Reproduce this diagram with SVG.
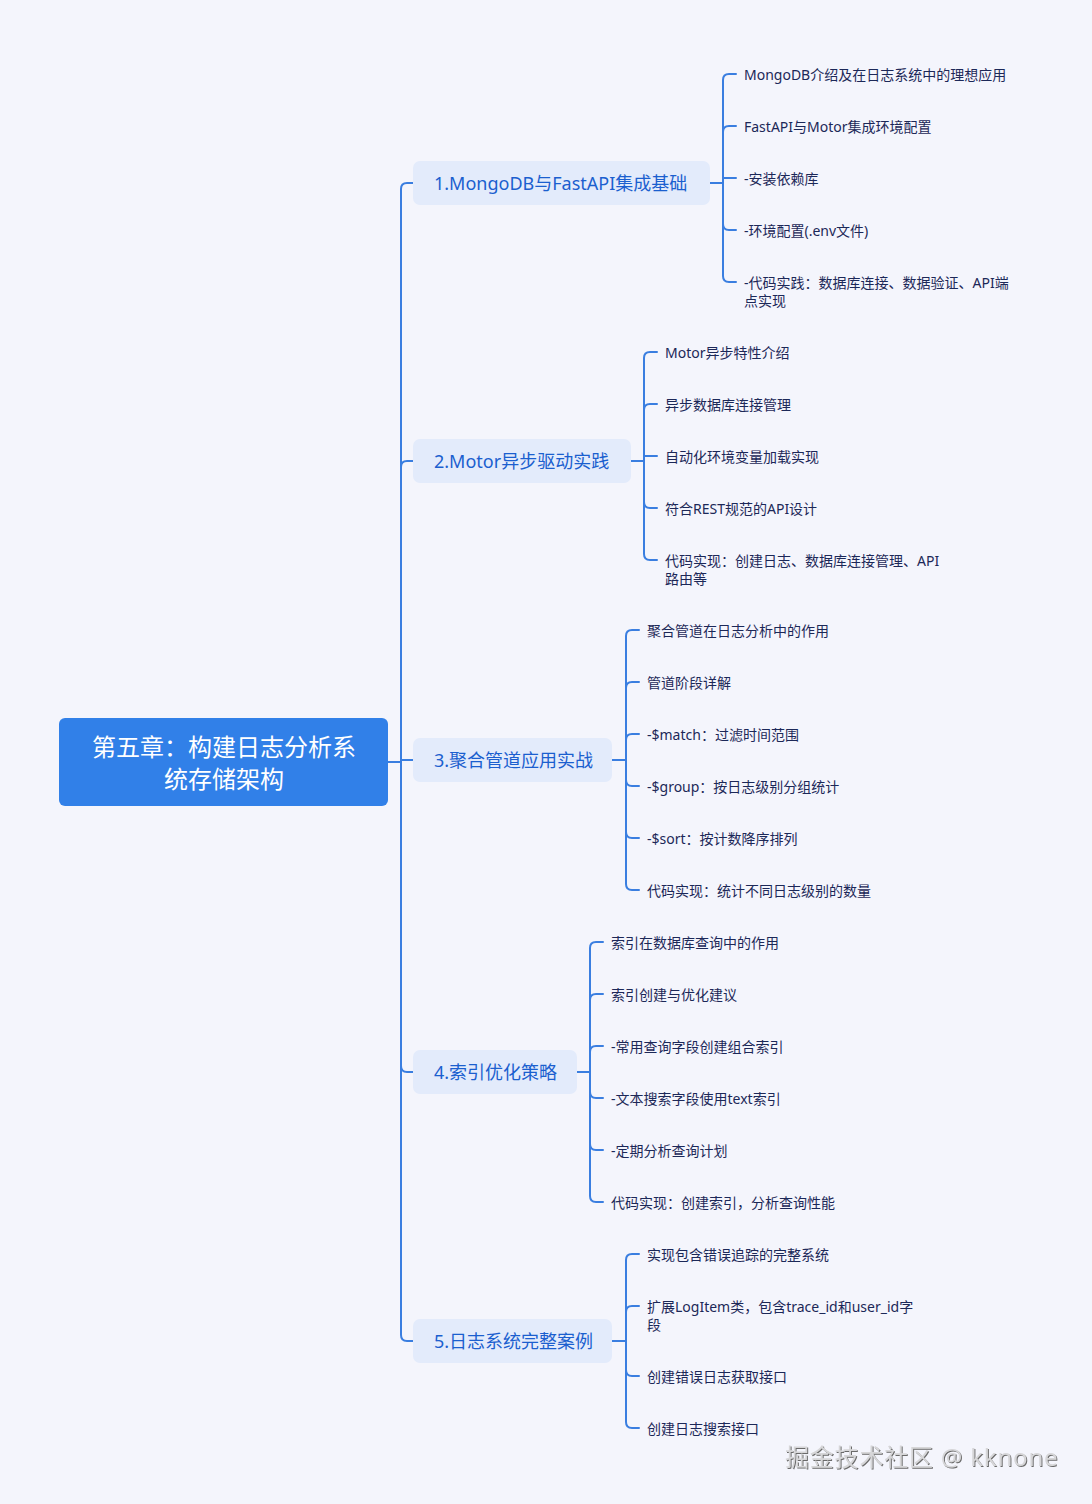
<svg xmlns="http://www.w3.org/2000/svg" width="1092" height="1504" viewBox="0 0 1092 1504">
<defs>
<style>
.ln{fill:none;stroke:#3a7ee0;stroke-width:2;stroke-linecap:round}
.root{fill:#3180e8}
.rt{font-family:"Noto Sans","Noto Sans CJK SC",sans-serif;font-size:24px;fill:#ffffff;text-anchor:middle}
.br{fill:#e3ebfb}
.bt{font-family:"Noto Sans","Noto Sans CJK SC",sans-serif;font-size:18px;fill:#1b5fcf}
.lt{font-family:"Noto Sans","Noto Sans CJK SC",sans-serif;font-size:14px;fill:#1c2858}
.wm{font-family:"Noto Sans","Noto Sans CJK SC",sans-serif;font-size:24px;fill:#d6d6d8;letter-spacing:0.8px}
</style>
<filter id="emb" x="-5%" y="-20%" width="110%" height="150%">
<feDropShadow dx="1" dy="1" stdDeviation="0.4" flood-color="#6a6a6a" flood-opacity="1"/>
</filter>
</defs>
<rect width="1092" height="1504" fill="#f4f5fc"/>
<g id="connectors">
<path class="ln" d="M388,762 H401 V189 Q401,183 407,183 H413"/>
<path class="ln" d="M401,762 V467 Q401,461 407,461 H413"/>
<path class="ln" d="M401,760 H413"/>
<path class="ln" d="M401,762 V1066 Q401,1072 407,1072 H413"/>
<path class="ln" d="M401,762 V1335 Q401,1341 407,1341 H413"/>
<path class="ln" d="M710,183 H723 V80 Q723,74 729,74 H736"/>
<path class="ln" d="M723,183 V132 Q723,126 729,126 H736"/>
<path class="ln" d="M723,183 V178 H736"/>
<path class="ln" d="M723,183 V224 Q723,230 729,230 H736"/>
<path class="ln" d="M723,183 V276 Q723,282 729,282 H736"/>
<path class="ln" d="M631,461 H644 V358 Q644,352 650,352 H657"/>
<path class="ln" d="M644,461 V410 Q644,404 650,404 H657"/>
<path class="ln" d="M644,461 V456 H657"/>
<path class="ln" d="M644,461 V502 Q644,508 650,508 H657"/>
<path class="ln" d="M644,461 V554 Q644,560 650,560 H657"/>
<path class="ln" d="M612,760 H626 V636 Q626,630 632,630 H639"/>
<path class="ln" d="M626,760 V688 Q626,682 632,682 H639"/>
<path class="ln" d="M626,760 V740 Q626,734 632,734 H639"/>
<path class="ln" d="M626,760 V780 Q626,786 632,786 H639"/>
<path class="ln" d="M626,760 V832 Q626,838 632,838 H639"/>
<path class="ln" d="M626,760 V884 Q626,890 632,890 H639"/>
<path class="ln" d="M577,1072 H590 V948 Q590,942 596,942 H603"/>
<path class="ln" d="M590,1072 V1000 Q590,994 596,994 H603"/>
<path class="ln" d="M590,1072 V1052 Q590,1046 596,1046 H603"/>
<path class="ln" d="M590,1072 V1092 Q590,1098 596,1098 H603"/>
<path class="ln" d="M590,1072 V1144 Q590,1150 596,1150 H603"/>
<path class="ln" d="M590,1072 V1196 Q590,1202 596,1202 H603"/>
<path class="ln" d="M612,1341 H626 V1260 Q626,1254 632,1254 H639"/>
<path class="ln" d="M626,1341 V1312 Q626,1306 632,1306 H639"/>
<path class="ln" d="M626,1341 V1370 Q626,1376 632,1376 H639"/>
<path class="ln" d="M626,1341 V1422 Q626,1428 632,1428 H639"/>
</g>
<g id="root">
<rect class="root" x="59" y="718" width="329" height="88" rx="6"/>
<text class="rt" x="224" y="756">第五章：构建日志分析系</text>
<text class="rt" x="224" y="788">统存储架构</text>
</g>
<g id="b1">
<rect class="br" x="413" y="161" width="297" height="44" rx="7"/>
<text class="bt" x="434" y="190">1.MongoDB与FastAPI集成基础</text>
</g>
<g id="b2">
<rect class="br" x="413" y="439" width="218" height="44" rx="7"/>
<text class="bt" x="434" y="468">2.Motor异步驱动实践</text>
</g>
<g id="b3">
<rect class="br" x="413" y="738" width="199" height="44" rx="7"/>
<text class="bt" x="434" y="767">3.聚合管道应用实战</text>
</g>
<g id="b4">
<rect class="br" x="413" y="1050" width="164" height="44" rx="7"/>
<text class="bt" x="434" y="1079">4.索引优化策略</text>
</g>
<g id="b5">
<rect class="br" x="413" y="1319" width="199" height="44" rx="7"/>
<text class="bt" x="434" y="1348">5.日志系统完整案例</text>
</g>
<g id="l1-1"><text class="lt" x="744" y="80">MongoDB介绍及在日志系统中的理想应用</text></g>
<g id="l1-2"><text class="lt" x="744" y="132">FastAPI与Motor集成环境配置</text></g>
<g id="l1-3"><text class="lt" x="744" y="184">-安装依赖库</text></g>
<g id="l1-4"><text class="lt" x="744" y="236">-环境配置(.env文件)</text></g>
<g id="l1-5"><text class="lt" x="744" y="288">-代码实践：数据库连接、数据验证、API端</text><text class="lt" x="744" y="306">点实现</text></g>
<g id="l2-1"><text class="lt" x="665" y="358">Motor异步特性介绍</text></g>
<g id="l2-2"><text class="lt" x="665" y="410">异步数据库连接管理</text></g>
<g id="l2-3"><text class="lt" x="665" y="462">自动化环境变量加载实现</text></g>
<g id="l2-4"><text class="lt" x="665" y="514">符合REST规范的API设计</text></g>
<g id="l2-5"><text class="lt" x="665" y="566">代码实现：创建日志、数据库连接管理、API</text><text class="lt" x="665" y="584">路由等</text></g>
<g id="l3-1"><text class="lt" x="647" y="636">聚合管道在日志分析中的作用</text></g>
<g id="l3-2"><text class="lt" x="647" y="688">管道阶段详解</text></g>
<g id="l3-3"><text class="lt" x="647" y="740">-$match：过滤时间范围</text></g>
<g id="l3-4"><text class="lt" x="647" y="792">-$group：按日志级别分组统计</text></g>
<g id="l3-5"><text class="lt" x="647" y="844">-$sort：按计数降序排列</text></g>
<g id="l3-6"><text class="lt" x="647" y="896">代码实现：统计不同日志级别的数量</text></g>
<g id="l4-1"><text class="lt" x="611" y="948">索引在数据库查询中的作用</text></g>
<g id="l4-2"><text class="lt" x="611" y="1000">索引创建与优化建议</text></g>
<g id="l4-3"><text class="lt" x="611" y="1052">-常用查询字段创建组合索引</text></g>
<g id="l4-4"><text class="lt" x="611" y="1104">-文本搜索字段使用text索引</text></g>
<g id="l4-5"><text class="lt" x="611" y="1156">-定期分析查询计划</text></g>
<g id="l4-6"><text class="lt" x="611" y="1208">代码实现：创建索引，分析查询性能</text></g>
<g id="l5-1"><text class="lt" x="647" y="1260">实现包含错误追踪的完整系统</text></g>
<g id="l5-2"><text class="lt" x="647" y="1312">扩展LogItem类，包含trace_id和user_id字</text><text class="lt" x="647" y="1330">段</text></g>
<g id="l5-3"><text class="lt" x="647" y="1382">创建错误日志获取接口</text></g>
<g id="l5-4"><text class="lt" x="647" y="1434">创建日志搜索接口</text></g>
<text class="wm" x="785" y="1466" filter="url(#emb)">掘金技术社区 @ kknone</text>
</svg>
